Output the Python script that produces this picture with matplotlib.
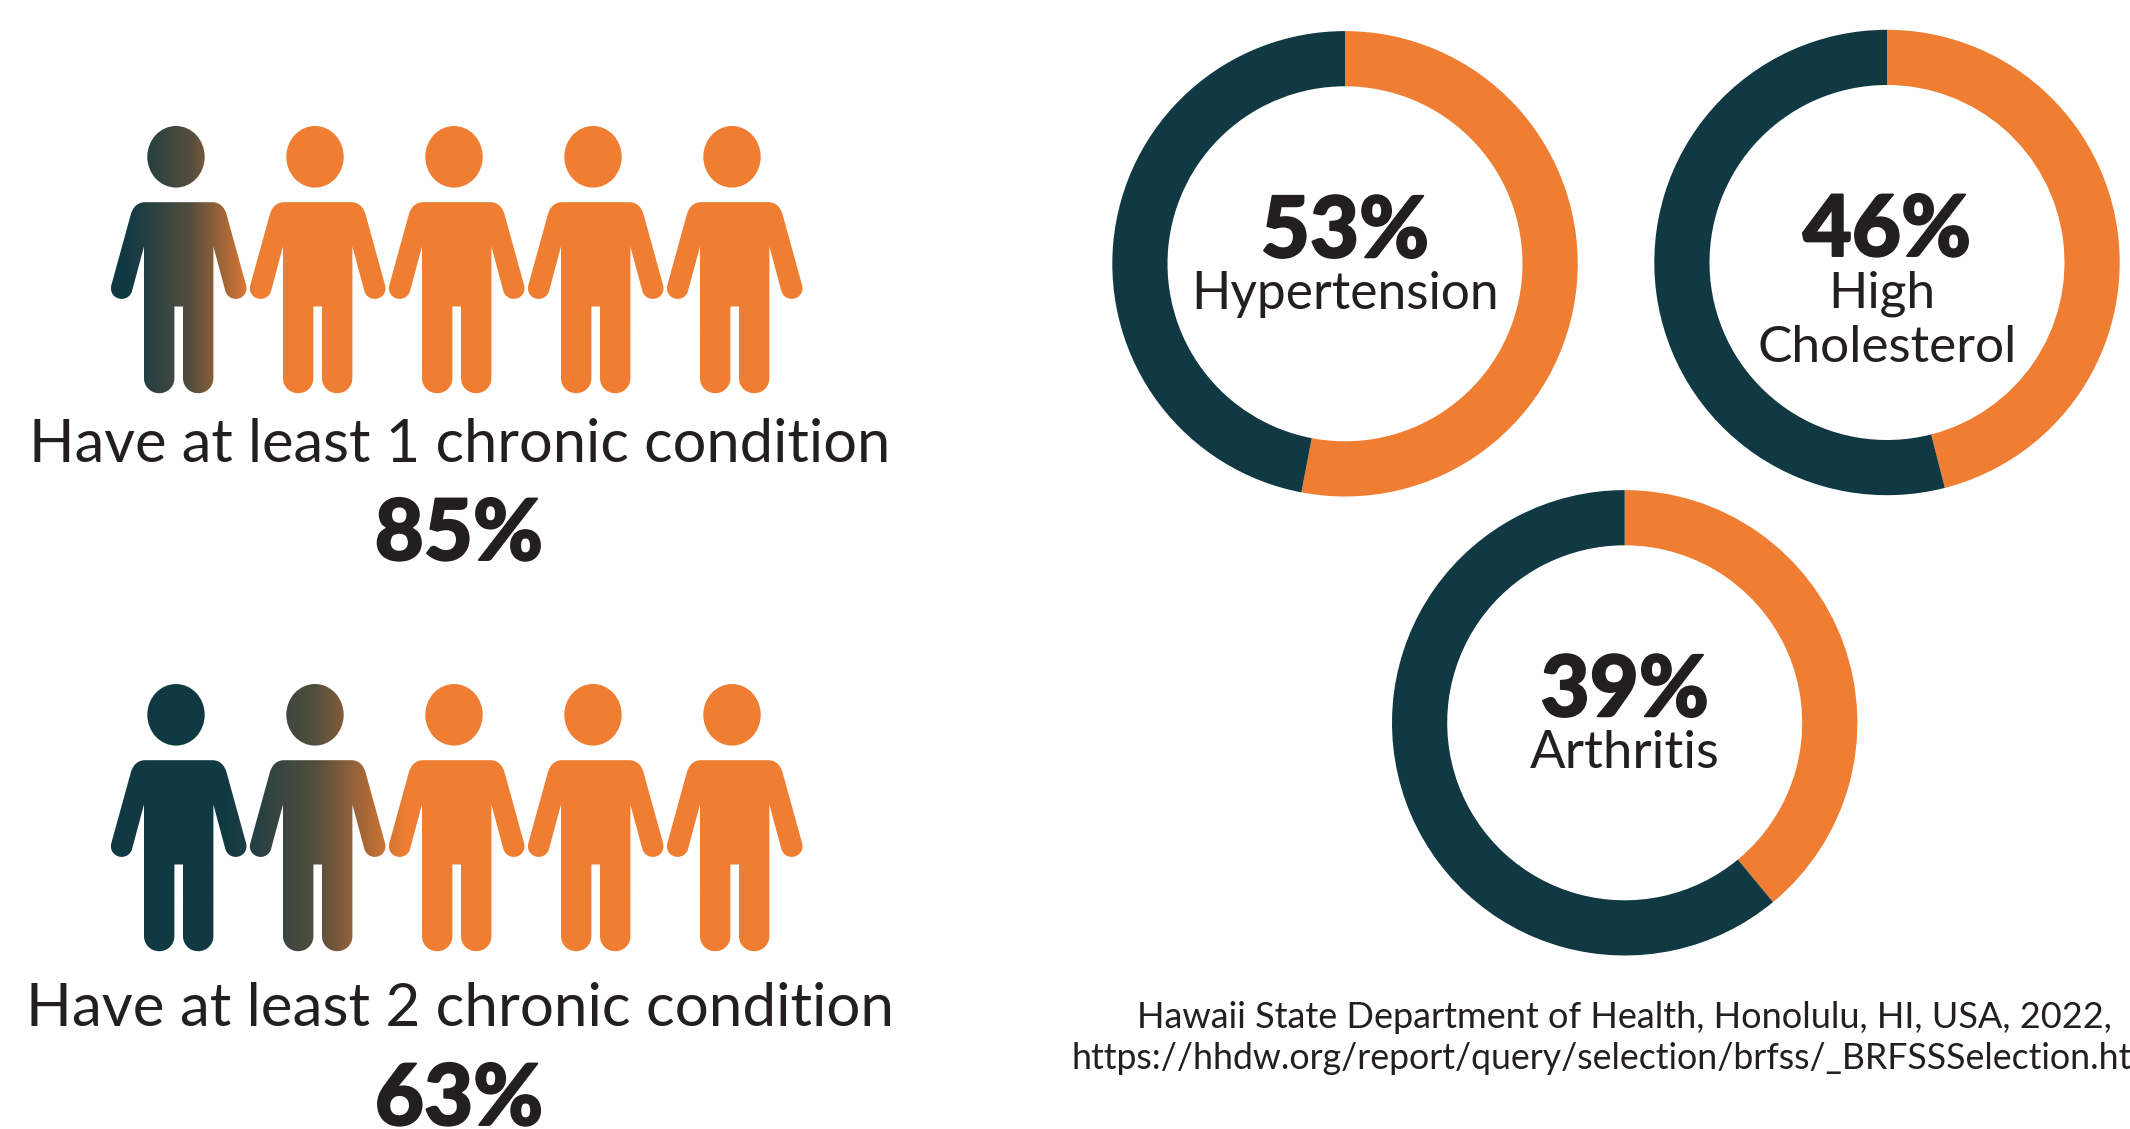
import numpy as np
import matplotlib
matplotlib.use("Agg")
import matplotlib.pyplot as plt
import matplotlib.patheffects as pe
from matplotlib.colors import LinearSegmentedColormap, to_rgb
from matplotlib.patches import PathPatch
from matplotlib.path import Path
from matplotlib.transforms import Affine2D

W, H = 2130, 1129
ORANGE = "#EF7E32"
TEAL = "#103943"
INK = "#231F20"

# people rows
row_labels = ["Have at least 1 chronic condition", "Have at least 2 chronic condition"]
row_values = [85, 63]

# donuts
donut_names = [["Hypertension"], ["High", "Cholesterol"], ["Arthritis"]]
donut_values = [53, 46, 39]

source_lines = [
    "Hawaii State Department of Health, Honolulu, HI, USA, 2022,",
    "https://hhdw.org/report/query/selection/brfss/_BRFSSSelection.html",
]

plt.rcParams["font.family"] = ["Lato", "DejaVu Sans"]

fig = plt.figure(figsize=(W / 100, H / 100), dpi=100, facecolor="white")
ax = fig.add_axes([0, 0, 1, 1])
ax.set_zorder(3)
ax.patch.set_alpha(0)
ax.axis("off")

teal, orange = np.array(to_rgb(TEAL)), np.array(to_rgb(ORANGE))
fade = LinearSegmentedColormap.from_list(
    "fade", [(0, teal), (0.5, teal + 0.3 * (orange - teal)), (1, orange)])
heavy = [pe.withStroke(linewidth=1.4, foreground=INK)]


def body_path(cx, top):
    # one figure outline, clockwise from the left shoulder, y grows downward
    verts = [(-33.7, 0)]
    codes = [Path.MOVETO]

    def line(dx, dy):
        verts.append((dx, dy))
        codes.append(Path.LINETO)

    def curve(a, b, c):
        verts.extend([a, b, c])
        codes.extend([Path.CURVE4] * 3)

    line(33.7, 0)
    curve((41, 0), (46, 5), (48, 12.7))
    line(67.3, 82.7)
    curve((69.5, 90.5), (64, 96.7), (57, 96.7))
    curve((52, 96.7), (48, 93.5), (46.7, 89))
    line(34.7, 44.3)
    line(34.7, 176)
    curve((34.7, 184.5), (28, 191), (19.5, 191))
    curve((11, 191), (4.3, 184.5), (4.3, 176))
    line(4.3, 104.3)
    line(-4.3, 104.3)
    line(-4.3, 176)
    curve((-4.3, 184.5), (-11, 191), (-19.5, 191))
    curve((-28, 191), (-34.7, 184.5), (-34.7, 176))
    line(-34.7, 44.3)
    line(-46.7, 89)
    curve((-48, 93.5), (-52, 96.7), (-57, 96.7))
    curve((-64, 96.7), (-69.5, 90.5), (-67.3, 82.7))
    line(-48, 12.7)
    curve((-46, 5), (-41, 0), (-33.7, 0))
    verts.append((-33.7, 0))
    codes.append(Path.CLOSEPOLY)
    return Path(verts, codes).transformed(Affine2D().translate(cx, top))


def head_path(cx, cy):
    return Path.unit_circle().transformed(Affine2D().scale(28.7, 30.8).translate(cx, cy))


person_x = [176, 315, 454, 593, 732]
head_y = [156.8, 714.8]
fade_width = [130, 180]
label_base = [462.5, 1026]
label_size = [42.9, 43.3]
pct_base = [560, 1125]

xs = np.arange(0, 900)
for r, value in enumerate(row_values):
    parts = []
    for cx in person_x:
        parts.append(head_path(cx, head_y[r]))
        parts.append(body_path(cx + 2.7, head_y[r] + 45.4))
    row_path = Path.make_compound_path(*parts)

    # the teal-to-orange turnover moves right as the orange share falls
    mid = 105 + 5.68 * (100 - value)
    t = np.clip((xs - mid) / fade_width[r] + 0.5, 0, 1).reshape(1, -1)
    im = ax.imshow(t, cmap=fade, vmin=0, vmax=1, aspect="auto", interpolation="bilinear",
                   extent=(0, 900, head_y[r] + 250, head_y[r] - 40))
    clip = PathPatch(row_path, facecolor="none", edgecolor="none", transform=ax.transData)
    ax.add_patch(clip)
    im.set_clip_path(clip)

    ax.text(459.5, label_base[r], row_labels[r], ha="center", va="baseline",
            fontsize=label_size[r], color=INK)
    ax.text(459, pct_base[r], f"{value}%", ha="center", va="baseline", fontsize=61,
            fontweight="black", color=INK, path_effects=heavy)

ax.set_xlim(0, W)
ax.set_ylim(H, 0)

# donuts sit in their own square axes so pie radius 1 fills the box
donut_centers = [(1345, 263.8), (1887, 262.5), (1624.7, 722.8)]
donut_label_size = [37.1, 37, 38]
OUTER = 232.7
for (cx, cy), v, names, fs in zip(donut_centers, donut_values, donut_names, donut_label_size):
    a = fig.add_axes([(cx - OUTER) / W, 1 - (cy + OUTER) / H, 2 * OUTER / W, 2 * OUTER / H])
    a.pie([v, 100 - v], colors=[ORANGE, TEAL], startangle=90, counterclock=False,
          radius=1, wedgeprops={"width": 55.2 / OUTER, "linewidth": 0})
    a.set_xlim(-1, 1)
    a.set_ylim(-1, 1)
    ax.text(cx, cy - 6.5, f"{v}%", ha="center", va="baseline", fontsize=61,
            fontweight="black", color=INK, path_effects=heavy)
    for j, part in enumerate(names):
        # "High" sits slightly left of the line below it
        shift = -5 if part == "High" else 0
        ax.text(cx + shift, cy + 45 + j * 54, part, ha="center", va="baseline",
                fontsize=fs, color=INK)

ax.text(2112, 1028, source_lines[0], ha="right", va="baseline", fontsize=26, color=INK)
ax.text(1071, 1069, source_lines[1], ha="left", va="baseline", fontsize=25.7, color=INK)

fig.savefig("out.png", dpi=100)
